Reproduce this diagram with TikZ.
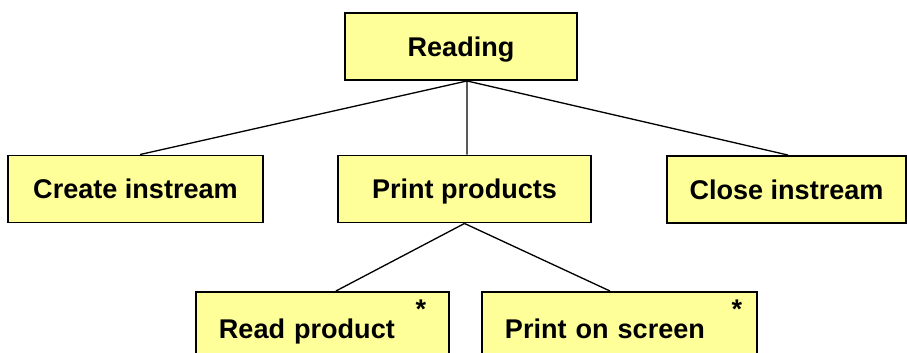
\documentclass[tikz,border=0pt]{standalone}
\usepackage{fontspec}
\setmainfont{Liberation Sans}
\usepackage{xcolor}
\usepackage{tikz}
\usetikzlibrary{positioning,calc}
\definecolor{boxyellow}{HTML}{FFFF99}
\newcommand{\boxfont}{\fontsize{15.4pt}{18pt}\selectfont\bfseries}
\tikzset{
  task/.style ={rectangle, draw, line width=1.1pt, fill=boxyellow,
                minimum height=1.34cm, inner sep=0pt, font=\boxfont,
                text height=0.38cm, text depth=0pt, align=center},
  leaf/.style ={task, minimum height=1.5cm, anchor=north west,
                inner xsep=0.46cm, align=left},
  tie/.style  ={draw, line width=0.75pt},
  mult/.style ={font=\boxfont, inner sep=0pt, anchor=base},
}

\begin{document}
\begin{tikzpicture}[x=0.02cm, y=-0.02cm]
\useasboundingbox (0,0) rectangle (907,352);

% --- top and middle row ---------------------------------------------
\node[task, minimum width=4.64cm] (read)   at (461,46.5)  {Reading};
\node[task, minimum width=5.10cm] (create) at (135.5,189) {Create instream};
\node[task, minimum width=5.06cm] (prod)   at (464.5,189) {Print products};
\node[task, minimum width=4.78cm] (close)  at (786.5,189.5) {Close instream};

% --- iterated steps --------------------------------------------------
\node[leaf, text width=4.14cm] (rp) at (195,291) {Read product};
\node[leaf, text width=4.58cm] (ps) at (481,291) {Print on screen};
\node[mult] (rpmult) at (421,318) {*};
\node[mult] (psmult) at (737,318) {*};

% --- tree lines ------------------------------------------------------
\coordinate (fork) at ([xshift=0.12cm]read.south);
\draw[tie] (fork) -- ([xshift=0.09cm]create.north);
\draw[tie] (fork) -- ([xshift=0.05cm]prod.north);
\draw[tie] (fork) -- ([xshift=0.03cm]close.north);
\draw[tie] (prod.south) -- ([xshift=0.27cm]rp.north);
\draw[tie] (prod.south) -- ([xshift=-0.19cm]ps.north);
\end{tikzpicture}
\end{document}
